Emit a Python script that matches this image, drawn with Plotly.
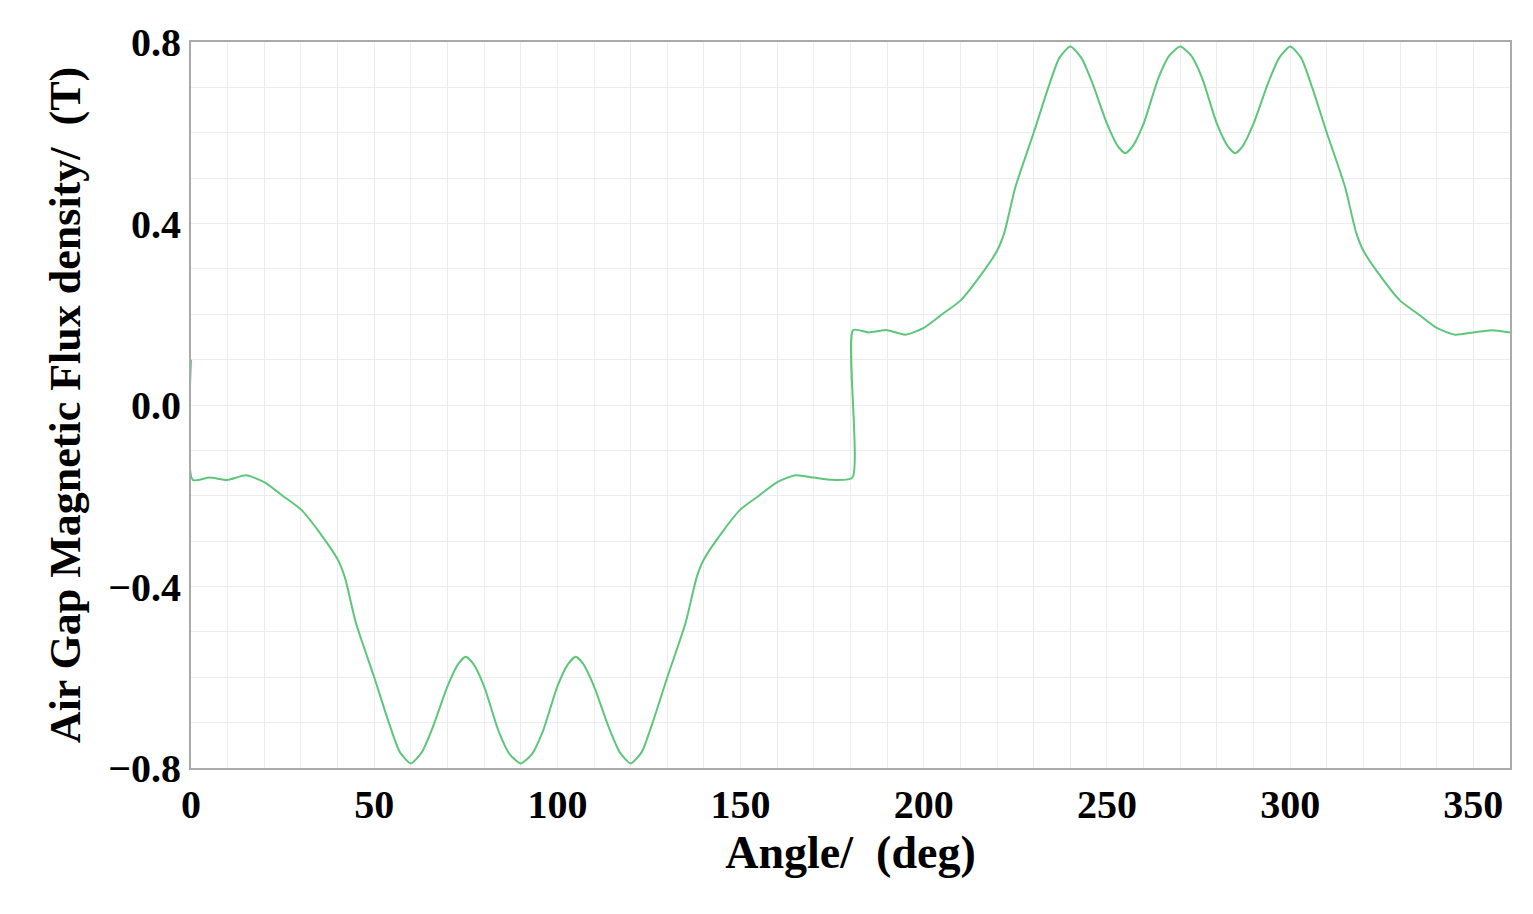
import plotly.graph_objects as go

x_first = [0, 0.5, 5, 10, 15, 20, 25, 30, 35, 40, 42, 45, 50, 54, 57, 60, 63, 66, 70, 73, 75, 77, 80, 84, 87, 90,
           93, 96, 100, 103, 105, 107, 110, 114, 117, 120, 123, 126, 130, 135, 138, 140, 145, 150, 155, 160, 165, 170, 175, 180.5]
y_first = [0.1, -0.165, -0.16, -0.165, -0.155, -0.17, -0.2, -0.23, -0.28, -0.34, -0.38, -0.48, -0.6, -0.7, -0.765, -0.79,
           -0.765, -0.71, -0.62, -0.57, -0.555, -0.57, -0.62, -0.72, -0.77, -0.79, -0.77, -0.72, -0.62, -0.57, -0.555, -0.57,
           -0.62, -0.71, -0.765, -0.79, -0.765, -0.7, -0.6, -0.48, -0.38, -0.34, -0.28, -0.23, -0.2, -0.17, -0.155, -0.16, -0.165, -0.16]
x_second = [180.7, 185, 190, 195, 200, 205, 210, 215, 220, 222, 225, 230, 234, 237, 240, 243, 246, 250, 253, 255, 257, 260, 264, 267, 270,
            273, 276, 280, 283, 285, 287, 290, 294, 297, 300, 303, 306, 310, 315, 318, 320, 325, 330, 335, 340, 345, 350, 355, 360]
y_second = [0.165, 0.16, 0.165, 0.155, 0.17, 0.2, 0.23, 0.28, 0.34, 0.38, 0.48, 0.6, 0.7, 0.765, 0.79, 0.765, 0.71, 0.62, 0.57, 0.555,
            0.57, 0.62, 0.72, 0.77, 0.79, 0.77, 0.72, 0.62, 0.57, 0.555, 0.57, 0.62, 0.71, 0.765, 0.79, 0.765, 0.7, 0.6, 0.48, 0.38, 0.34,
            0.28, 0.23, 0.2, 0.17, 0.155, 0.16, 0.165, 0.16]

fig = go.Figure(go.Scatter(x=x_first + x_second, y=y_first + y_second, mode="lines",
                           line=dict(color="#5cc77a", width=2, shape="spline", smoothing=0.6)))
font = dict(family="Liberation Serif", color="black")
fig.update_layout(
    width=1533, height=914, plot_bgcolor="white", paper_bgcolor="white",
    margin=dict(l=183, r=31, t=31, b=154), showlegend=False,
    xaxis=dict(range=[0, 360], tickvals=[0, 50, 100, 150, 200, 250, 300, 350],
               ticktext=["<b>%d</b>" % v for v in [0, 50, 100, 150, 200, 250, 300, 350]],
               tickfont=dict(size=40, **font), showline=True, linecolor="#aaaaaa", linewidth=2, mirror=True,
               gridcolor="#ececec", ticks="", minor=dict(dtick=10, showgrid=True, gridcolor="#ececec"),
               title=dict(text="<b>Angle/  (deg)</b>", font=dict(size=46, **font), standoff=10), zeroline=False),
    yaxis=dict(range=[-0.8, 0.8], tickvals=[-0.8, -0.4, 0, 0.4, 0.8],
               ticktext=["<b>−0.8</b>", "<b>−0.4</b>", "<b>0.0</b>", "<b>0.4</b>", "<b>0.8</b>"],
               tickfont=dict(size=40, **font), showline=True, linecolor="#aaaaaa", linewidth=2, mirror=True,
               gridcolor="#ececec", ticks="", minor=dict(dtick=0.1, showgrid=True, gridcolor="#ececec"),
               title=dict(text="<b>Air Gap Magnetic Flux density/  (T)</b>", font=dict(size=44, **font), standoff=14),
               zeroline=False),
)
fig.write_html("out.html")
